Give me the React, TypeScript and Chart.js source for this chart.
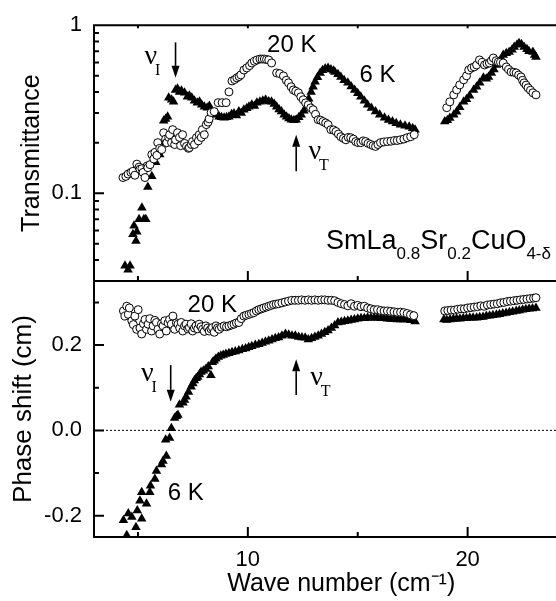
import { useEffect, useRef } from 'react';
import { Chart, registerables } from 'chart.js';

Chart.register(...registerables);

const SANS = '"Liberation Sans", Arial, Helvetica, sans-serif';
const SERIF = '"Liberation Serif", "Times New Roman", serif';

// ---------- axes ----------
const xRange = [3, 25.5];
const xTicks = [5, 10, 15, 20];
const xLabelTicks = [10, 20];
const transRange = [0.03, 1];
const transMajorTicks = [0.1, 1];
const transMinorTicks = [0.03, 0.04, 0.05, 0.06, 0.07, 0.08, 0.09, 0.2, 0.3, 0.4, 0.5, 0.6, 0.7, 0.8, 0.9];
const phaseRange = [-0.25, 0.35];
const phaseTicks = [-0.2, -0.1, 0, 0.1, 0.2, 0.3];
const phaseLabelTicks = [-0.2, 0, 0.2];
const zeroLineX = [3, 25.5];

// ---------- transmittance, 20 K (open circles) ----------
const trans20x = [4.32, 4.45, 4.55, 4.68, 4.77, 4.86, 4.95, 5.05, 5.09, 5.18, 5.23, 5.32, 5.41, 5.45, 5.55, 5.63, 5.72, 5.77, 5.86, 5.9, 5.99, 6.08, 6.17, 6.26, 6.31, 6.4, 6.44, 6.53, 6.58, 6.67, 6.71, 6.8, 6.89, 6.94, 7.03, 7.12, 7.21, 7.3, 7.34, 7.43, 7.48, 7.57, 7.66, 7.75, 7.79, 7.88, 7.93, 8.02, 8.11, 8.19, 8.24, 8.33, 8.47, 8.65, 8.83, 9.01, 9.14, 9.28, 9.4, 9.5, 9.6, 9.68, 9.82, 9.95, 10.08, 10.18, 10.3, 10.41, 10.55, 10.65, 10.75, 10.85, 10.95, 11.08, 11.31, 11.45, 11.62, 11.75, 11.85, 11.97, 12.07, 12.18, 12.3, 12.41, 12.52, 12.63, 12.75, 12.86, 12.97, 13.08, 13.2, 13.31, 13.42, 13.54, 13.65, 13.78, 13.9, 14.01, 14.12, 14.23, 14.35, 14.46, 14.57, 14.68, 14.8, 14.91, 15.02, 15.14, 15.25, 15.36, 15.47, 15.59, 15.7, 15.81, 15.92, 16.04, 16.19, 16.35, 16.51, 16.67, 16.8, 16.94, 17.1, 17.25, 17.41, 17.57,
  19.05, 19.19, 19.37, 19.5, 19.64, 19.82, 19.95, 20.05, 20.18, 20.3, 20.41, 20.54, 20.66, 20.77, 20.88, 20.99, 21.08, 21.17, 21.3, 21.4, 21.5, 21.62, 21.76, 21.87, 21.98, 22.1, 22.21, 22.32, 22.43, 22.5, 22.57, 22.66, 22.75, 22.86, 22.97, 23.11];
const trans20y = [0.124, 0.126, 0.13, 0.133, 0.135, 0.128, 0.149, 0.143, 0.139, 0.14, 0.133, 0.124, 0.145, 0.142, 0.148, 0.17, 0.16, 0.175, 0.168, 0.2, 0.185, 0.182, 0.229, 0.21, 0.2, 0.215, 0.223, 0.2, 0.239, 0.195, 0.208, 0.229, 0.215, 0.192, 0.223, 0.198, 0.19, 0.185, 0.187, 0.195, 0.203, 0.195, 0.214, 0.205, 0.223, 0.215, 0.239, 0.223, 0.256, 0.265, 0.277, 0.302, 0.306, 0.346, 0.346, 0.346, 0.401, 0.466, 0.475, 0.486, 0.495, 0.506, 0.541, 0.557, 0.575, 0.596, 0.61, 0.621, 0.629, 0.629, 0.629, 0.625, 0.621, 0.596, 0.52, 0.515, 0.499, 0.47, 0.454, 0.43, 0.412, 0.405, 0.396, 0.375, 0.36, 0.345, 0.336, 0.322, 0.314, 0.295, 0.274, 0.272, 0.267, 0.262, 0.256, 0.239, 0.238, 0.233, 0.225, 0.217, 0.212, 0.208, 0.215, 0.214, 0.21, 0.203, 0.2, 0.2, 0.205, 0.203, 0.198, 0.195, 0.192, 0.19, 0.195, 0.2, 0.202, 0.203, 0.204, 0.206, 0.206, 0.208, 0.21, 0.214, 0.217, 0.223,
  0.323, 0.35, 0.385, 0.412, 0.441, 0.473, 0.5, 0.541, 0.557, 0.565, 0.58, 0.621, 0.6, 0.58, 0.59, 0.596, 0.615, 0.638, 0.615, 0.604, 0.6, 0.596, 0.564, 0.545, 0.527, 0.525, 0.52, 0.505, 0.492, 0.47, 0.454, 0.44, 0.424, 0.41, 0.396, 0.385];

// ---------- transmittance, 6 K (filled triangles) ----------
const trans6x = [4.41, 4.55, 4.64, 4.77, 4.82, 4.91, 4.95, 5.05, 5.18, 5.27, 5.36, 5.45, 5.63, 5.81, 5.99, 6.1, 6.17, 6.26, 6.35, 6.4, 6.53, 6.62, 6.71, 6.8, 6.89, 6.98, 7.12, 7.25, 7.34, 7.45, 7.57, 7.7, 7.8, 7.9, 8.02, 8.15, 8.25, 8.35, 8.47, 8.58, 8.69, 8.8, 8.92, 9.03, 9.14, 9.26, 9.37, 9.48, 9.59, 9.7, 9.82, 9.95, 10.05, 10.18, 10.3, 10.41, 10.55, 10.68, 10.81, 10.95, 11.08, 11.2, 11.31, 11.42, 11.53, 11.65, 11.76, 11.87, 11.98, 12.1, 12.2, 12.32, 12.43, 12.55, 12.66, 12.77, 12.88, 12.97, 13.06, 13.17, 13.29, 13.4, 13.52, 13.65, 13.78, 13.9, 13.96, 14.1, 14.23, 14.38, 14.55, 14.7, 14.86, 15.0, 15.14, 15.3, 15.45, 15.62, 15.81, 16.0, 16.22, 16.4, 16.58, 16.75, 16.94, 17.15, 17.34, 17.5, 17.61,
  18.96, 19.08, 19.19, 19.37, 19.5, 19.64, 19.82, 19.95, 20.09, 20.27, 20.41, 20.55, 20.72, 20.85, 20.95, 21.08, 21.2, 21.31, 21.44, 21.55, 21.62, 21.76, 21.89, 22.02, 22.12, 22.25, 22.34, 22.45, 22.57, 22.7, 22.79, 22.97, 23.05, 23.11];
const trans6y = [0.037, 0.035, 0.037, 0.057, 0.064, 0.052, 0.059, 0.07, 0.082, 0.07, 0.07, 0.109, 0.126, 0.153, 0.17, 0.195, 0.27, 0.277, 0.285, 0.37, 0.36, 0.35, 0.412, 0.418, 0.401, 0.407, 0.396, 0.375, 0.38, 0.37, 0.355, 0.346, 0.35, 0.336, 0.327, 0.323, 0.33, 0.306, 0.293, 0.3, 0.285, 0.283, 0.281, 0.283, 0.285, 0.295, 0.298, 0.29, 0.306, 0.3, 0.314, 0.32, 0.327, 0.336, 0.33, 0.345, 0.35, 0.355, 0.36, 0.352, 0.35, 0.34, 0.327, 0.315, 0.306, 0.293, 0.285, 0.278, 0.274, 0.272, 0.274, 0.283, 0.293, 0.31, 0.327, 0.365, 0.401, 0.43, 0.46, 0.49, 0.52, 0.54, 0.553, 0.557, 0.545, 0.535, 0.527, 0.51, 0.492, 0.47, 0.454, 0.432, 0.412, 0.393, 0.375, 0.355, 0.336, 0.322, 0.306, 0.293, 0.281, 0.273, 0.267, 0.261, 0.256, 0.252, 0.249, 0.244, 0.239,
  0.267, 0.272, 0.28, 0.293, 0.305, 0.325, 0.35, 0.362, 0.38, 0.412, 0.43, 0.455, 0.486, 0.48, 0.492, 0.52, 0.545, 0.58, 0.6, 0.63, 0.665, 0.68, 0.692, 0.715, 0.741, 0.765, 0.782, 0.77, 0.741, 0.72, 0.7, 0.692, 0.665, 0.647];

// ---------- phase shift, 20 K (open circles) ----------
const phase20x = [4.34, 4.41, 4.49, 4.56, 4.61, 4.72, 4.79, 4.86, 4.94, 5.01, 5.09, 5.17, 5.25, 5.32, 5.39, 5.46, 5.54, 5.62, 5.69, 5.77, 5.84, 5.91, 5.99, 6.07, 6.14, 6.22, 6.29, 6.37, 6.44, 6.52, 6.59, 6.67, 6.75, 6.82, 6.9, 6.97, 7.04, 7.12, 7.19, 7.27, 7.34, 7.42, 7.49, 7.57, 7.64, 7.72, 7.79, 7.87, 7.94, 8.02, 8.09, 8.17, 8.24, 8.32, 8.39, 8.47, 8.55, 8.62, 8.69, 8.8, 8.92, 9.03, 9.14, 9.26, 9.37, 9.48, 9.59, 9.7, 9.82, 9.93, 10.05, 10.16, 10.27, 10.39, 10.5, 10.61, 10.72, 10.84, 10.95, 11.06, 11.17, 11.29, 11.4, 11.55, 11.7, 11.85, 12.0, 12.15, 12.3, 12.45, 12.6, 12.75, 12.9, 13.05, 13.2, 13.35, 13.5, 13.65, 13.8, 13.95, 14.1, 14.25, 14.4, 14.55, 14.7, 14.85, 15.0, 15.15, 15.3, 15.45, 15.6, 15.75, 15.9, 16.05, 16.2, 16.35, 16.5, 16.65, 16.8, 16.95, 17.1, 17.25, 17.4, 17.55,
  18.96, 19.1, 19.25, 19.4, 19.55, 19.7, 19.85, 20.0, 20.15, 20.3, 20.45, 20.6, 20.75, 20.9, 21.05, 21.2, 21.35, 21.5, 21.65, 21.8, 21.95, 22.1, 22.25, 22.4, 22.55, 22.7, 22.85, 23.0, 23.11];
const phase20y = [0.28, 0.268, 0.291, 0.272, 0.287, 0.257, 0.248, 0.268, 0.237, 0.283, 0.24, 0.226, 0.25, 0.26, 0.237, 0.249, 0.262, 0.233, 0.245, 0.258, 0.253, 0.237, 0.226, 0.25, 0.245, 0.257, 0.233, 0.252, 0.26, 0.249, 0.268, 0.237, 0.252, 0.249, 0.24, 0.253, 0.233, 0.245, 0.249, 0.238, 0.241, 0.25, 0.233, 0.24, 0.245, 0.238, 0.249, 0.243, 0.237, 0.232, 0.245, 0.24, 0.233, 0.238, 0.241, 0.23, 0.245, 0.24, 0.237, 0.242, 0.245, 0.243, 0.245, 0.247, 0.249, 0.252, 0.253, 0.262, 0.268, 0.27, 0.272, 0.274, 0.276, 0.28, 0.283, 0.285, 0.287, 0.289, 0.291, 0.293, 0.295, 0.296, 0.297, 0.299, 0.301, 0.303, 0.305, 0.305, 0.305, 0.306, 0.305, 0.306, 0.305, 0.306, 0.305, 0.306, 0.306, 0.305, 0.305, 0.304, 0.3, 0.297, 0.295, 0.292, 0.297, 0.291, 0.293, 0.29, 0.291, 0.287, 0.285, 0.283, 0.283, 0.281, 0.28, 0.28, 0.279, 0.278, 0.277, 0.277, 0.276, 0.274, 0.271, 0.269,
  0.28, 0.281, 0.282, 0.282, 0.284, 0.285, 0.285, 0.287, 0.288, 0.289, 0.29, 0.292, 0.291, 0.294, 0.295, 0.296, 0.297, 0.299, 0.3, 0.302, 0.303, 0.304, 0.305, 0.306, 0.307, 0.308, 0.309, 0.31, 0.311];

// ---------- phase shift, 6 K (filled triangles) ----------
const phase6x = [4.34, 4.49, 4.56, 4.72, 4.91, 4.97, 5.09, 5.17, 5.17, 5.39, 5.54, 5.57, 5.77, 5.84, 6.07, 6.14, 6.29, 6.26, 6.44, 6.52, 6.67, 6.75, 6.82, 6.89, 7.05, 7.12, 7.19, 7.3, 7.42, 7.5, 7.57, 7.65, 7.72, 7.8, 7.87, 7.98, 8.09, 8.2, 8.32, 8.39, 8.47, 8.55, 8.66, 8.77, 8.88, 9.0, 9.14, 9.28, 9.43, 9.59, 9.75, 9.9, 10.04, 10.18, 10.34, 10.5, 10.65, 10.8, 10.95, 11.1, 11.25, 11.4, 11.55, 11.71, 11.86, 12.01, 12.16, 12.31, 12.46, 12.61, 12.75, 12.9, 13.05, 13.2, 13.35, 13.5, 13.65, 13.8, 13.95, 14.1, 14.25, 14.4, 14.55, 14.7, 14.85, 15.0, 15.15, 15.3, 15.45, 15.6, 15.75, 15.9, 16.05, 16.2, 16.35, 16.5, 16.65, 16.8, 16.95, 17.1, 17.25, 17.4, 17.61,
  18.92, 19.05, 19.2, 19.35, 19.5, 19.65, 19.8, 19.95, 20.1, 20.25, 20.41, 20.55, 20.7, 20.85, 21.0, 21.15, 21.31, 21.45, 21.6, 21.75, 21.9, 22.05, 22.21, 22.35, 22.5, 22.65, 22.8, 22.95, 23.11];
const phase6y = [-0.211, -0.246, -0.195, -0.203, -0.227, -0.188, -0.165, -0.207, -0.145, -0.172, -0.145, -0.13, -0.114, -0.095, -0.08, -0.072, -0.06, -0.022, -0.018, 0.005, 0.029, 0.033, 0.036, 0.06, 0.065, 0.071, 0.079, 0.09, 0.102, 0.11, 0.117, 0.122, 0.125, 0.131, 0.137, 0.14, 0.144, 0.15, 0.129, 0.16, 0.163, 0.168, 0.172, 0.175, 0.177, 0.179, 0.181, 0.183, 0.185, 0.187, 0.19, 0.192, 0.195, 0.197, 0.2, 0.202, 0.205, 0.208, 0.21, 0.213, 0.216, 0.218, 0.222, 0.226, 0.224, 0.222, 0.222, 0.219, 0.218, 0.217, 0.213, 0.216, 0.219, 0.222, 0.226, 0.23, 0.234, 0.24, 0.246, 0.253, 0.254, 0.256, 0.257, 0.259, 0.26, 0.262, 0.263, 0.263, 0.264, 0.264, 0.264, 0.264, 0.263, 0.263, 0.262, 0.261, 0.261, 0.26, 0.26, 0.26, 0.26, 0.258, 0.255,
  0.26, 0.259, 0.26, 0.261, 0.262, 0.262, 0.263, 0.263, 0.264, 0.264, 0.264, 0.265, 0.266, 0.268, 0.269, 0.27, 0.271, 0.272, 0.274, 0.275, 0.277, 0.278, 0.28, 0.281, 0.283, 0.284, 0.285, 0.286, 0.287];

const toPoints = (xs: number[], ys: number[]) => xs.map((x, i) => ({ x, y: ys[i] }));
const near = (list: number[], v: number) => list.some((t) => Math.abs(t - v) < 1e-9);

const framePlugin = {
  id: 'frame',
  afterDatasetsDraw(chart: any) {
    const { ctx, chartArea, scales } = chart;
    const { x, yT, yP } = scales;
    const left = chartArea.left;
    const right = chartArea.right + 5;
    ctx.save();
    ctx.strokeStyle = '#000';
    ctx.lineWidth = 2;
    ctx.beginPath();
    ctx.moveTo(left, yT.top); ctx.lineTo(right, yT.top);
    ctx.moveTo(left, yT.bottom); ctx.lineTo(right, yT.bottom);
    ctx.moveTo(left, yP.bottom); ctx.lineTo(right, yP.bottom);
    ctx.moveTo(left, yT.top - 1); ctx.lineTo(left, yP.bottom + 1);
    // x ticks (inward, pointing up) on both panels
    for (const v of xTicks) {
      const px = x.getPixelForValue(v);
      const len = near(xLabelTicks, v) ? 10 : 5;
      ctx.moveTo(px, yT.bottom); ctx.lineTo(px, yT.bottom - len);
      ctx.moveTo(px, yP.bottom); ctx.lineTo(px, yP.bottom - len);
      ctx.moveTo(px, yT.top); ctx.lineTo(px, yT.top + 3);
    }
    for (const v of transMajorTicks) {
      const py = yT.getPixelForValue(v);
      ctx.moveTo(left, py); ctx.lineTo(left + 10, py);
    }
    for (const v of transMinorTicks) {
      const py = yT.getPixelForValue(v);
      ctx.moveTo(left, py); ctx.lineTo(left + 5, py);
    }
    for (const v of phaseTicks) {
      const py = yP.getPixelForValue(v);
      const len = near(phaseLabelTicks, v) ? 10 : 5;
      ctx.moveTo(left, py); ctx.lineTo(left + len, py);
    }
    ctx.stroke();
    ctx.restore();
  },
};

const annotationPlugin = {
  id: 'annotations',
  afterDatasetsDraw(chart: any) {
    const { ctx, scales } = chart;
    const { x, yT, yP } = scales;
    const px = (v: number) => x.getPixelForValue(v);
    ctx.save();
    ctx.fillStyle = '#000';
    ctx.strokeStyle = '#000';

    const label = (t: string, xv: number, py: number, size: number) => {
      ctx.font = `${size}px ${SANS}`;
      ctx.textAlign = 'center';
      ctx.textBaseline = 'middle';
      ctx.fillText(t, px(xv), py);
    };
    const nu = (sub: string, xv: number, py: number) => {
      ctx.font = `28px ${SERIF}`;
      ctx.textAlign = 'center';
      ctx.textBaseline = 'middle';
      ctx.fillText('\u03bd', px(xv), py - 3);
      ctx.font = `16px ${SERIF}`;
      ctx.textAlign = 'left';
      ctx.fillText(sub, px(xv) + 4, py + 11);
    };
    const arrow = (xv: number, tail: number, tip: number) => {
      const ax = px(xv);
      const dir = tip > tail ? 1 : -1;
      const head = 12;
      ctx.lineWidth = 1.6;
      ctx.beginPath();
      ctx.moveTo(ax, tail);
      ctx.lineTo(ax, tip - dir * head);
      ctx.stroke();
      ctx.beginPath();
      ctx.moveTo(ax, tip);
      ctx.lineTo(ax - 4, tip - dir * head);
      ctx.lineTo(ax + 4, tip - dir * head);
      ctx.closePath();
      ctx.fill();
    };

    // top panel
    label('20 K', 12.0, yT.getPixelForValue(0.76), 24);
    label('6 K', 15.9, yT.getPixelForValue(0.5), 24);
    nu('I', 5.59, yT.getPixelForValue(0.62));
    arrow(6.71, yT.getPixelForValue(0.79), yT.getPixelForValue(0.486));
    nu('T', 13.05, yT.getPixelForValue(0.17));
    arrow(12.2, yT.getPixelForValue(0.135), yT.getPixelForValue(0.223));

    // compound formula
    const parts: [string, boolean][] = [['SmLa', false], ['0.8', true], ['Sr', false], ['0.2', true], ['CuO', false], ['4-\u03b4', true]];
    let cx = px(13.56);
    const base = yT.getPixelForValue(0.0465);
    ctx.textAlign = 'left';
    ctx.textBaseline = 'alphabetic';
    for (const [t, sub] of parts) {
      ctx.font = sub ? `17px ${SANS}` : `27px ${SANS}`;
      ctx.fillText(t, cx, sub ? base + 10 : base);
      cx += ctx.measureText(t).width;
    }

    // bottom panel
    label('20 K', 8.38, yP.getPixelForValue(0.294), 24);
    label('6 K', 7.18, yP.getPixelForValue(-0.148), 24);
    nu('I', 5.43, yP.getPixelForValue(0.125));
    arrow(6.49, yP.getPixelForValue(0.153), yP.getPixelForValue(0.067));
    nu('T', 13.13, yP.getPixelForValue(0.116));
    arrow(12.2, yP.getPixelForValue(0.083), yP.getPixelForValue(0.167));

    ctx.restore();
  },
};

export default function App() {
  const ref = useRef<HTMLCanvasElement | null>(null);

  useEffect(() => {
    const canvas = ref.current;
    if (!canvas) return;
    const circleStyle = {
      pointStyle: 'circle',
      pointRadius: 4,
      pointBorderWidth: 1,
      pointBorderColor: '#000',
      pointBackgroundColor: '#fff',
      showLine: false,
    };
    const triangleStyle = {
      pointStyle: 'triangle',
      pointRadius: 5.5,
      pointBorderWidth: 0,
      pointBorderColor: '#000',
      pointBackgroundColor: '#000',
      showLine: false,
    };
    const chart = new Chart(canvas, {
      type: 'scatter',
      data: {
        datasets: [
          { label: '20 K transmittance', data: toPoints(trans20x, trans20y), yAxisID: 'yT', ...circleStyle } as any,
          { label: '20 K phase', data: toPoints(phase20x, phase20y), yAxisID: 'yP', ...circleStyle } as any,
          { label: '6 K transmittance', data: toPoints(trans6x, trans6y), yAxisID: 'yT', ...triangleStyle } as any,
          { label: '6 K phase', data: toPoints(phase6x, phase6y), yAxisID: 'yP', ...triangleStyle } as any,
          {
            label: 'zero',
            data: zeroLineX.map((v) => ({ x: v, y: 0 })),
            yAxisID: 'yP',
            showLine: true,
            borderColor: '#000',
            borderWidth: 1,
            borderDash: [2, 2],
            pointRadius: 0,
          } as any,
        ],
      },
      options: {
        animation: false,
        responsive: false,
        devicePixelRatio: 1,
        layout: { padding: { top: 20, left: 0, right: 0, bottom: 0 } },
        plugins: { legend: { display: false }, tooltip: { enabled: false } },
        scales: {
          x: {
            type: 'linear',
            position: 'bottom',
            min: xRange[0],
            max: xRange[1],
            afterBuildTicks: (s: any) => { s.ticks = xTicks.map((value) => ({ value })); },
            afterFit: (s: any) => { s.height = 64; },
            grid: { display: false, drawTicks: false },
            border: { display: false },
            ticks: {
              autoSkip: false,
              maxRotation: 0,
              padding: 10,
              color: '#000',
              font: { family: SANS, size: 22 },
              callback: (v: any) => (near(xLabelTicks, Number(v)) ? String(v) : ''),
            },
            title: {
              display: true,
              text: 'Wave number (cm\u207b\u00b9)',
              color: '#000',
              font: { family: SANS, size: 25 },
              padding: { top: 0, bottom: 2 },
            },
          },
          yP: {
            type: 'linear',
            position: 'left',
            stack: 'panels',
            stackWeight: 1,
            min: phaseRange[0],
            max: phaseRange[1],
            afterBuildTicks: (s: any) => { s.ticks = phaseTicks.map((value) => ({ value })); },
            afterFit: (s: any) => { s.width = 94; },
            grid: { display: false, drawTicks: false },
            border: { display: false },
            ticks: {
              autoSkip: false,
              padding: 12,
              color: '#000',
              font: { family: SANS, size: 22 },
              callback: (v: any) => (near(phaseLabelTicks, Number(v)) ? Number(v).toFixed(1) : ''),
            },
            title: {
              display: true,
              text: 'Phase shift (cm)',
              color: '#000',
              font: { family: SANS, size: 26 },
              padding: { top: 8, bottom: 0 },
            },
          },
          yT: {
            type: 'logarithmic',
            position: 'left',
            stack: 'panels',
            stackWeight: 1,
            min: transRange[0],
            max: transRange[1],
            afterBuildTicks: (s: any) => {
              s.ticks = [...transMinorTicks, ...transMajorTicks].sort((a, b) => a - b).map((value) => ({ value }));
            },
            afterFit: (s: any) => { s.width = 94; },
            grid: { display: false, drawTicks: false },
            border: { display: false },
            ticks: {
              autoSkip: false,
              padding: 12,
              color: '#000',
              font: { family: SANS, size: 22 },
              callback: (v: any) => (near(transMajorTicks, Number(v)) ? String(Number(v)) : ''),
            },
            title: {
              display: true,
              text: 'Transmittance',
              color: '#000',
              font: { family: SANS, size: 25 },
              padding: { top: 17, bottom: 0 },
            },
          },
        },
      } as any,
      plugins: [framePlugin, annotationPlugin],
    });
    return () => chart.destroy();
  }, []);

  return (
    <div style={{ position: 'absolute', left: 0, top: 0, width: 556, height: 601, overflow: 'hidden', background: '#fff' }}>
      <canvas ref={ref} width={594} height={601} style={{ display: 'block', width: 594, height: 601 }} />
    </div>
  );
}
